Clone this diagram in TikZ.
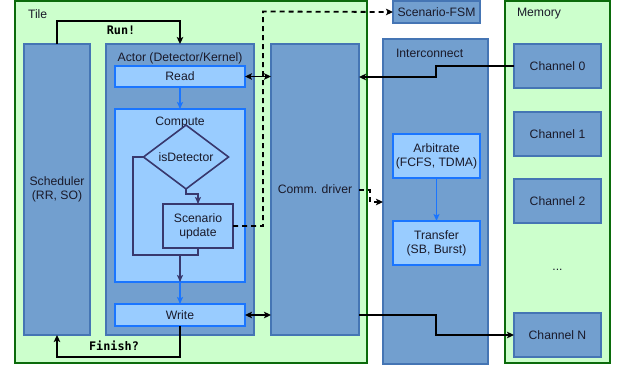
\documentclass[tikz,border=0pt]{standalone}
\usepackage{fontspec}
\setmainfont{Liberation Sans}
\setmonofont{DejaVu Sans Mono}
\usetikzlibrary{shapes.geometric,arrows.meta}
\definecolor{tilefill}{HTML}{CCFFCC}
\definecolor{tileline}{HTML}{0B6B0B}
\definecolor{boxfill}{HTML}{729FCF}
\definecolor{boxline}{HTML}{4575B4}
\definecolor{lbfill}{HTML}{99CCFF}
\definecolor{lbline}{HTML}{1A75FF}
\definecolor{flow}{HTML}{38386E}
\definecolor{txt}{HTML}{1A1A2A}
\tikzset{
  every node/.style={font=\fontsize{12.2}{14}\selectfont, text=txt, inner sep=0pt, outer sep=0pt},
  region/.style={draw=tileline, fill=tilefill, line width=1.8pt},
  box/.style={draw=boxline, fill=boxfill, line width=1.3pt, align=center},
  lbox/.style={draw=lbline, fill=lbfill, line width=1.6pt, align=center},
  fbox/.style={draw=flow, fill=lbfill, line width=1.6pt, align=center},
  tip/.style={-{Stealth[length=7pt,width=6.5pt,inset=1.5pt]}},
  arr/.style={tip, draw=black, line width=1.8pt},
  darr/.style={{Stealth[length=7pt,width=6.5pt,inset=1.5pt]}-{Stealth[length=7pt,width=6.5pt,inset=1.5pt]}, draw=black, line width=1.8pt},
  dasharr/.style={tip, draw=black, line width=1.8pt, dash pattern=on 5pt off 4pt},
  barr/.style={-{Stealth[length=7pt,width=6pt,inset=1.5pt]}, draw=lbline, line width=1.4pt},
  farr/.style={-{Stealth[length=7pt,width=6pt,inset=1.5pt]}, draw=flow, line width=1.6pt},
  fline/.style={draw=flow, line width=1.6pt},
  bold mono/.style={font=\fontsize{11.8}{13.5}\selectfont\ttfamily\bfseries, text=black}
}
\begin{document}
\begin{tikzpicture}[x=1pt,y=-1pt]
\useasboundingbox (0,0) rectangle (621,372);
% regions
\node[region, minimum width=352, minimum height=362] (tile) at (191,182) {};
\node[anchor=west] (tilelab) at (28,14) {Tile};
\node[region, minimum width=105, minimum height=362] (mem) at (557.5,182) {};
\node[anchor=west] (memlab) at (517,14) {Memory};
% tile contents
\node[box, minimum width=66, minimum height=291] (sched) at (57,189.5) {Scheduler\\(RR, SO)};
\node[box, minimum width=148, minimum height=291] (actor) at (180,189.5) {};
\node (actorlab) at (180,58) {Actor (Detector/Kernel)};
\node[lbox, minimum width=130, minimum height=21] (read) at (180,76.5) {Read};
\node[lbox, minimum width=130, minimum height=173] (compute) at (180,195.5) {};
\node (complab) at (180,123) {Compute};
\node[lbox, minimum width=130, minimum height=22] (write) at (180,315) {Write};
\node[diamond, fbox, minimum width=85, minimum height=43] (diam) at (186,157) {isDetector};
\node[fbox, minimum width=70, minimum height=44] (scen) at (198,226) {Scenario\\update};
\node[box, minimum width=88, minimum height=291] (comm) at (315,189.5) {Comm. driver};
% outside
\node[box, minimum width=87, minimum height=22] (fsm) at (436.5,12) {Scenario-FSM};
\node[box, minimum width=105, minimum height=325] (inter) at (435.5,201.5) {};
\node[anchor=west] (interlab) at (396,53) {Interconnect};
\node[lbox, minimum width=87, minimum height=44] (arb) at (436.5,156) {Arbitrate\\(FCFS, TDMA)};
\node[lbox, minimum width=87, minimum height=44] (trans) at (436.5,243) {Transfer\\(SB, Burst)};
\node[box, minimum width=87, minimum height=44] (ch0) at (557.5,66) {Channel 0};
\node[box, minimum width=87, minimum height=44] (ch1) at (557.5,134) {Channel 1};
\node[box, minimum width=87, minimum height=44] (ch2) at (557.5,201) {Channel 2};
\node (dots) at (557.5,270) {...};
\node[box, minimum width=87, minimum height=44] (chN) at (557.5,335) {Channel N};
% coordinates
\coordinate (runtop) at (57,21);
\coordinate (fintop) at (180,357);
\coordinate (loopL) at (133,157);
\coordinate (loopB) at (133,255);
\coordinate (joinB) at (198,255);
\coordinate (mergeB) at (180,255);
\coordinate (dcorner) at (263,226);
\coordinate (dtop) at (263,11.5);
\coordinate (cd1) at (370,190);
\coordinate (cd2) at (370,202);
\coordinate (c0a) at (436,66);
\coordinate (c0b) at (436,77);
\coordinate (cNa) at (436,315);
\coordinate (cNb) at (436,335);
% control arrows
\draw[arr] (sched.north) -- (runtop) -| (actor.north);
\node[bold mono] (runlab) at (121,30) {Run!};
\draw[arr] (write.south) -- (fintop) -| (sched.south);
\node[bold mono] (finlab) at (114,346) {Finish?};
% flow inside actor
\draw[barr] (read.south) -- (compute.north);
\draw[barr] (compute.south) -- (write.north);
\draw[farr] (diam.south) -- ++(0,5) -| (scen.north);
\draw[fline] (diam.west) -- (loopL) -- (loopB) -- (joinB) -- (scen.south);
\draw[farr] (mergeB) -- (compute.south);
\draw[barr] (arb.south) -- (trans.north);
% data
\draw[darr] (read.east) -- (read.east -| comm.west);
\draw[darr] (write.east) -- (write.east -| comm.west);
\draw[arr] (ch0.west) -- (c0a) -- (c0b) -- (c0b -| comm.east);
\draw[arr] (cNa -| comm.east) -- (cNa) -- (cNb) -- (chN.west);
% dashed
\draw[dasharr] (scen.east) -- (dcorner) -- (dtop) -- (fsm.west);
\draw[dasharr] (cd1 -| comm.east) -- (cd1) -- (cd2) -- (cd2 -| inter.west);
\end{tikzpicture}
\end{document}
